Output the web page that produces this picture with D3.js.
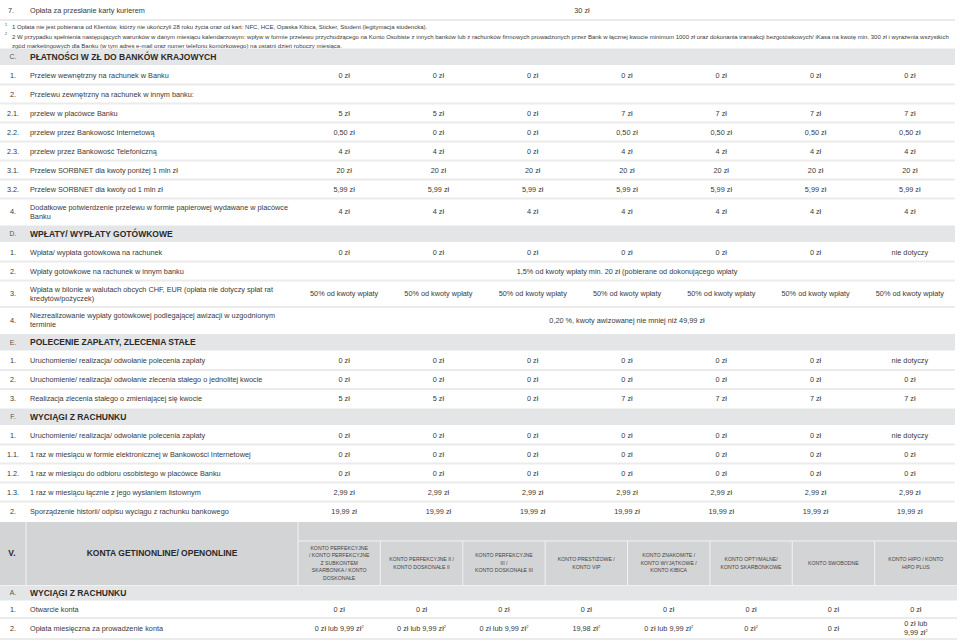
<!DOCTYPE html>
<html>
<head>
<meta charset="utf-8">
<script src="https://cdn.jsdelivr.net/npm/d3@7"></script>
<style>
  body { margin: 0; background: #fff; }
  svg { display: block; font-family: "Liberation Sans", Arial, sans-serif; }
</style>
</head>
<body>
<script>
'use strict';

// ---- data ----
const topRow = ["7.", "Opłata za przesłanie karty kurierem", "30 zł"];

const footnotes = [
  ["1", "1  Opłata nie jest pobierana od Klientów, którzy nie ukończyli 28 roku życia  oraz od kart: NFC, HCE, Opaska Kibica, Sticker, Student (legitymacja studencka)."],
  ["2", "2 W przypadku spełnienia następujących warunków w danym miesiącu kalendarzowym: wpływ w formie przelewu przychodzącego na Konto Osobiste z innych banków lub z rachunków firmowych prowadzonych przez Bank w łącznej kwocie minimum 1000 zł oraz dokonania transakcji bezgotówkowych/ iKasa na kwotę min. 300 zł i wyrażenia wszystkich"],
  ["", "zgód marketingowych dla Banku (w tym adres e-mail oraz numer telefonu komórkowego) na ostatni dzień roboczy miesiąca."]
];

const sectionCodes = ["C.", "D.", "E.", "F."];
const sectionTitles = [
  "PŁATNOŚCI W ZŁ DO BANKÓW KRAJOWYCH",
  "WPŁATY/ WYPŁATY GOTÓWKOWE",
  "POLECENIE ZAPŁATY, ZLECENIA STAŁE",
  "WYCIĄGI Z RACHUNKU"
];

// each row: code, label (\n = line break), values (array per column, or one string spanning all)
const rowsC = [
  ["1.", "Przelew wewnętrzny na rachunek w Banku", ["0 zł", "0 zł", "0 zł", "0 zł", "0 zł", "0 zł", "0 zł"]],
  ["2.", "Przelewu zewnętrzny na rachunek w innym banku:", []],
  ["2.1.", "przelew w placówce Banku", ["5 zł", "5 zł", "0 zł", "7 zł", "7 zł", "7 zł", "7 zł"]],
  ["2.2.", "przelew przez Bankowość Internetową", ["0,50 zł", "0 zł", "0 zł", "0,50 zł", "0,50 zł", "0,50 zł", "0,50 zł"]],
  ["2.3.", "przelew przez Bankowość Telefoniczną", ["4 zł", "4 zł", "0 zł", "4 zł", "4 zł", "4 zł", "4 zł"]],
  ["3.1.", "Przelew SORBNET dla kwoty poniżej 1 mln zł", ["20 zł", "20 zł", "20 zł", "20 zł", "20 zł", "20 zł", "20 zł"]],
  ["3.2.", "Przelew SORBNET dla kwoty od 1 mln zł", ["5,99  zł", "5,99  zł", "5,99  zł", "5,99  zł", "5,99  zł", "5,99  zł", "5,99  zł"]],
  ["4.", "Dodatkowe potwierdzenie przelewu w formie papierowej wydawane w placówce\nBanku", ["4 zł", "4 zł", "4 zł", "4 zł", "4 zł", "4 zł", "4 zł"]]
];
const rowsD = [
  ["1.", "Wpłata/ wypłata gotówkowa na rachunek", ["0 zł", "0 zł", "0 zł", "0 zł", "0 zł", "0 zł", "nie dotyczy"]],
  ["2.", "Wpłaty gotówkowe na rachunek w innym banku", "1,5% od kwoty wpłaty min. 20 zł (pobierane od dokonującego wpłaty"],
  ["3.", "Wpłata w bilonie w walutach obcych CHF, EUR (opłata nie dotyczy spłat rat\nkredytów/pożyczek)", ["50% od kwoty wpłaty", "50% od kwoty wpłaty", "50% od kwoty wpłaty", "50% od kwoty wpłaty", "50% od kwoty wpłaty", "50% od kwoty wpłaty", "50% od kwoty wpłaty"]],
  ["4.", "Niezrealizowanie wypłaty gotówkowej podlegającej awizacji w uzgodnionym\nterminie", "0,20 %, kwoty awizowanej nie mniej niż 49,99 zł"]
];
const rowsE = [
  ["1.", "Uruchomienie/ realizacja/ odwołanie polecenia zapłaty", ["0 zł", "0 zł", "0 zł", "0 zł", "0 zł", "0 zł", "nie dotyczy"]],
  ["2.", "Uruchomienie/ realizacja/ odwołanie zlecenia stałego o jednolitej kwocie", ["0 zł", "0 zł", "0 zł", "0 zł", "0 zł", "0 zł", "0 zł"]],
  ["3.", "Realizacja zlecenia stałego o zmieniającej się kwocie", ["5 zł", "5 zł", "0 zł", "7 zł", "7 zł", "7 zł", "7 zł"]]
];
const rowsF = [
  ["1.", "Uruchomienie/ realizacja/ odwołanie polecenia zapłaty", ["0 zł", "0 zł", "0 zł", "0 zł", "0 zł", "0 zł", "nie dotyczy"]],
  ["1.1.", "1 raz w miesiącu w formie elektronicznej w Bankowości Internetowej", ["0 zł", "0 zł", "0 zł", "0 zł", "0 zł", "0 zł", "0 zł"]],
  ["1.2.", "1 raz w miesiącu do odbioru osobistego w placówce Banku", ["0 zł", "0 zł", "0 zł", "0 zł", "0 zł", "0 zł", "0 zł"]],
  ["1.3.", "1 raz w miesiącu łącznie z jego wysłaniem listownym", ["2,99 zł", "2,99 zł", "2,99 zł", "2,99 zł", "2,99 zł", "2,99 zł", "2,99 zł"]],
  ["2.", "Sporządzenie historii/ odpisu wyciągu z rachunku bankowego", ["19,99 zł", "19,99 zł", "19,99 zł", "19,99 zł", "19,99 zł", "19,99 zł", "19,99 zł"]]
];

// lower table
const lowerCode = "V.";
const lowerTitle = "KONTA GETINONLINE/ OPENONLINE";
const accountNames = [
  "KONTO PERFEKCYJNE\n/ KONTO PERFEKCYJNE\nZ SUBKONTEM\nSKARBONKA / KONTO\nDOSKONAŁE",
  "KONTO PERFEKCYJNE II /\nKONTO DOSKONAŁE II",
  "KONTO PERFEKCYJNE\nIII /\nKONTO DOSKONAŁE III",
  "KONTO PRESTIŻOWE /\nKONTO VIP",
  "KONTO ZNAKOMITE /\nKONTO WYJĄTKOWE /\nKONTO KIBICA",
  "KONTO OPTYMALNE/\nKONTO SKARBONKOWE",
  "KONTO SWOBODNE",
  "KONTO HIPO / KONTO\nHIPO PLUS"
];
const lowerSectionCode = "A.";
const lowerSectionTitle = "WYCIĄGI Z RACHUNKU";
// "^2" marks a footnote reference
const rowsA = [
  ["1.", "Otwarcie konta", ["0 zł", "0 zł", "0 zł", "0 zł", "0 zł", "0 zł", "0 zł", "0 zł"]],
  ["2.", "Opłata miesięczna za prowadzenie konta", ["0 zł lub 9,99 zł^2", "0 zł lub 9,99 zł^2", "0 zł lub 9,99 zł^2", "19,98 zł^2", "0 zł lub 9,99 zł^2", "0 zł^2", "0 zł", "0 zł lub\n9,99 zł^2"]]
];

// ---- drawing ----
const W = 960, H = 642;
const FONT = 7.3, HEAD_FONT = 8.5, NOTE_FONT = 6.0, COLHEAD_FONT = 5.2;
const TEXT = "#3a3a3a";
const BAND = "#e4e5e6";
const HEADER_BG = "#d3d4d5";
const RULE = "#ebebeb";

const svg = d3.select("body").append("svg")
  .attr("width", W)
  .attr("height", H);

// column scales
const xUpper = d3.scaleBand().domain(d3.range(7)).range([297, 957]);
const xLower = d3.scaleBand().domain(d3.range(8)).range([298, 957]);
const xCode = 13, xLabel = 30, tableRight = 955;

// write a (possibly multi-line) string centred on y
function multiText(g, str, x, y, size, lineH, anchor, weight) {
  const lines = str.split("\n");
  const t = g.append("text")
    .attr("x", x)
    .attr("text-anchor", anchor || "start")
    .attr("font-size", size)
    .attr("font-weight", weight || "normal")
    .attr("fill", TEXT);
  const y0 = y - (lines.length - 1) * lineH / 2 + size * 0.35;
  lines.forEach((ln, i) => {
    const ts = t.append("tspan").attr("x", x).attr("y", y0 + i * lineH);
    const parts = ln.split("^");
    ts.text(parts[0]);
    if (parts[1]) {
      t.append("tspan")
        .attr("dy", -size * 0.4)
        .attr("font-size", size * 0.55)
        .text(parts[1]);
      t.append("tspan").attr("dy", size * 0.4).text("");
    }
  });
  return t;
}

function rule(y) {
  svg.append("rect")
    .attr("x", 0).attr("y", y - 1)
    .attr("width", tableRight).attr("height", 2)
    .attr("fill", RULE);
}

// top row
multiText(svg, topRow[0], xCode - 2, 10, FONT, 9, "middle");
multiText(svg, topRow[1], xLabel, 10, FONT, 9);
multiText(svg, topRow[2], 582, 10, FONT, 9, "middle");
rule(20);

// footnotes
const noteY = d3.scaleLinear().domain([0, 2]).range([27, 46]);
footnotes.forEach((d, i) => {
  if (d[0]) {
    svg.append("text")
      .attr("x", 5).attr("y", noteY(i) - 1.5)
      .attr("font-size", 3.6).attr("fill", TEXT)
      .text(d[0]);
  }
  svg.append("text")
    .attr("x", 12).attr("y", noteY(i) + NOTE_FONT * 0.35)
    .attr("font-size", NOTE_FONT).attr("fill", TEXT)
    .text(d[1]);
});

// upper table layout: heights by row kind
const blocks = [rowsC, rowsD, rowsE, rowsF];
const layout = [];
blocks.forEach((rows, s) => {
  layout.push({ kind: "head", code: sectionCodes[s], label: sectionTitles[s], h: 17.5 });
  rows.forEach(r => {
    const tall = r[1].includes("\n");
    layout.push({ kind: "row", code: r[0], label: r[1], values: r[2], h: tall ? 26.5 : 19 });
  });
});
const tops = [48].concat(Array.from(d3.cumsum(layout, d => d.h), v => 48 + v));
const yTop = d3.scaleOrdinal().domain(d3.range(layout.length)).range(tops);

layout.forEach((d, i) => {
  const y0 = yTop(i), yc = y0 + d.h / 2;
  const g = svg.append("g");
  if (d.kind === "head") {
    g.append("rect").attr("x", 0).attr("y", y0 + 0.5)
      .attr("width", tableRight).attr("height", d.h - 1).attr("fill", BAND);
    multiText(g, d.code, xCode, yc, 6.8, 9, "middle").attr("fill", "#555");
    multiText(g, d.label, xLabel, yc, HEAD_FONT, 9, "start", "bold").attr("fill", "#2a2a2a");
  } else {
    if (i + 1 < layout.length && layout[i + 1].kind === "row") rule(y0 + d.h);
    multiText(g, d.code, xCode, yc, FONT, 9, "middle");
    multiText(g, d.label, xLabel, yc, FONT, 9);
    if (typeof d.values === "string") {
      multiText(g, d.values, (xUpper.range()[0] + xUpper.range()[1]) / 2, yc, FONT, 9, "middle");
    } else {
      d.values.forEach((v, c) => {
        multiText(g, v, xUpper(c) + xUpper.bandwidth() / 2, yc, FONT, 9, "middle");
      });
    }
  }
});

// lower table header block
const hdrTop = 522, hdrBot = 585, hdrMid = 541;
svg.append("rect").attr("x", 0).attr("y", hdrTop)
  .attr("width", 957).attr("height", hdrBot - hdrTop).attr("fill", HEADER_BG);
[26, 298].concat(xLower.domain().slice(1).map(c => xLower(c))).forEach(x => {
  svg.append("line")
    .attr("x1", x).attr("x2", x)
    .attr("y1", x > 297 && x !== 298 ? hdrMid : hdrTop).attr("y2", hdrBot)
    .attr("stroke", "#f2f2f2").attr("stroke-width", 1);
});
svg.append("line")
  .attr("x1", 298).attr("x2", 957).attr("y1", hdrMid).attr("y2", hdrMid)
  .attr("stroke", "#f2f2f2").attr("stroke-width", 1);

multiText(svg, lowerCode, 12, 553.5, HEAD_FONT, 9, "middle", "bold").attr("fill", "#2a2a2a");
multiText(svg, lowerTitle, 162, 553.5, HEAD_FONT, 9, "middle", "bold").attr("fill", "#2a2a2a");
accountNames.forEach((n, c) => {
  multiText(svg, n, xLower(c) + xLower.bandwidth() / 2, 563, COLHEAD_FONT, 7.5, "middle")
    .attr("fill", "#444");
});

// lower section band
svg.append("rect").attr("x", 0).attr("y", 585.5)
  .attr("width", 957).attr("height", 15).attr("fill", BAND);
multiText(svg, lowerSectionCode, xCode, 593, 6.8, 9, "middle").attr("fill", "#555");
multiText(svg, lowerSectionTitle, xLabel, 593, HEAD_FONT, 9, "start", "bold").attr("fill", "#2a2a2a");

const yLower = d3.scaleBand().domain(d3.range(rowsA.length)).range([600, 636]);
rowsA.forEach((r, i) => {
  const yc = yLower(i) + yLower.bandwidth() / 2 + (i === 0 ? 0 : 1);
  multiText(svg, r[0], xCode, yc, FONT, 9, "middle");
  multiText(svg, r[1], xLabel, yc, FONT, 9);
  r[2].forEach((v, c) => {
    multiText(svg, v, xLower(c) + xLower.bandwidth() / 2, yc, FONT, 8.5, "middle");
  });
  svg.append("rect").attr("x", 0).attr("y", yLower(i) + yLower.bandwidth() + (i === 0 ? -1 : 2))
    .attr("width", 957).attr("height", 2).attr("fill", RULE);
});
</script>
</body>
</html>
